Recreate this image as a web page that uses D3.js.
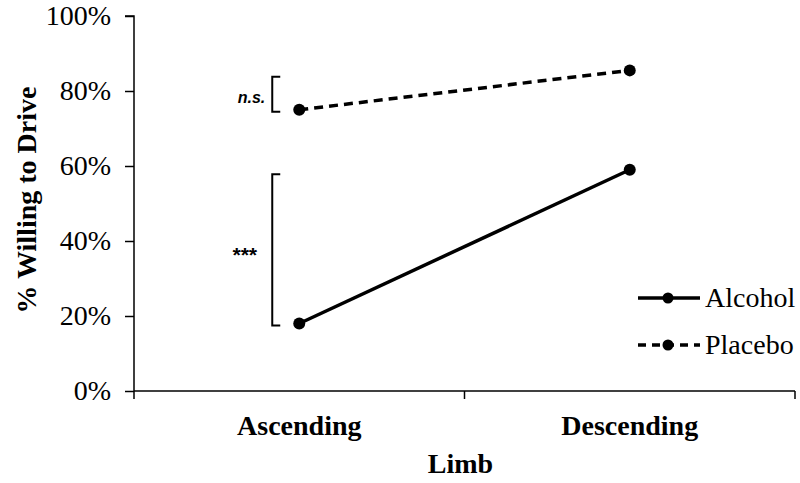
<!DOCTYPE html>
<html><head><meta charset="utf-8">
<script src="https://cdn.jsdelivr.net/npm/d3@7/dist/d3.min.js"></script>
<style>body{margin:0;background:#fff}svg{display:block}
.serif{font-family:"Liberation Serif","Tinos","Times New Roman","DejaVu Serif",serif !important}
.sansbi{font-family:"Liberation Sans",Arial,"DejaVu Sans",sans-serif !important;font-weight:bold;font-style:italic}
</style>
</head><body>
<svg id="c" width="800" height="483"></svg>
<script>
const categories = ["Ascending", "Descending"];
const seriesNames = ["Alcohol", "Placebo"];
const alcohol = [18, 59];
const placebo = [75, 85.5];
const yTicks = [0, 20, 40, 60, 80, 100];

(function () {
const svg = d3.select("#c");
const mL = 134, mR = 795, mT = 16, mB = 391;
const FS = 28;

const x = d3.scaleBand().domain(categories).range([mL, mR]);
const y = d3.scaleLinear().domain([0, 100]).range([mB, mT]);

// Y axis
const ya = svg.append("g").attr("transform", `translate(${mL},0)`)
  .call(d3.axisLeft(y).tickValues(yTicks).tickSize(9).tickPadding(14).tickFormat(d => d + "%"));
ya.attr("font-family", null).attr("font-size", null);
ya.select(".domain").attr("stroke", "#000").attr("stroke-width", 1.5).attr("d", `M-9,${y(100)}H0V${y(0)}`);
ya.selectAll(".tick line").attr("stroke", "#000").attr("stroke-width", 1.5);
ya.selectAll(".tick text").attr("class", "serif").attr("font-size", FS).attr("fill", "#000").attr("dy", "0.32em");

// X axis
const xa = svg.append("g").attr("transform", `translate(0,${mB})`)
  .call(d3.axisBottom(x).tickSize(0).tickPadding(0));
xa.attr("font-family", null).attr("font-size", null);
xa.select(".domain").attr("stroke", "#000").attr("stroke-width", 1.5).attr("d", `M${mL},0H${mR}`);
xa.selectAll(".tick text").attr("class", "serif").attr("font-size", FS).attr("font-weight", "bold")
  .attr("fill", "#000").attr("y", 44).attr("dy", 0);
const bounds = [mL, mL + x.bandwidth(), mR];
svg.append("g").selectAll("line").data(bounds).join("line")
  .attr("x1", d => d).attr("x2", d => d).attr("y1", mB).attr("y2", mB + 8)
  .attr("stroke", "#000").attr("stroke-width", 1.5);

// Axis titles
svg.append("text").attr("class", "serif").attr("x", (mL + mR) / 2 - 4).attr("y", 473).attr("text-anchor", "middle")
  .attr("font-size", FS).attr("font-weight", "bold").text("Limb");
svg.append("text").attr("class", "serif").attr("transform", `translate(36,200) rotate(-90)`).attr("text-anchor", "middle")
  .attr("font-size", FS).attr("font-weight", "bold").text("% Willing to Drive");

const cx = c => x(c) + x.bandwidth() / 2;
const line = d3.line().x((d, i) => cx(categories[i])).y(d => y(d));
const series = [{name: seriesNames[0], vals: alcohol, dash: null},
                {name: seriesNames[1], vals: placebo, dash: "9,6"}];

series.forEach(s => {
  svg.append("path").attr("d", line(s.vals)).attr("fill", "none").attr("stroke", "#000")
    .attr("stroke-width", 3.5).attr("stroke-dasharray", s.dash);
  svg.append("g").selectAll("circle").data(s.vals).join("circle")
    .attr("cx", (d, i) => cx(categories[i])).attr("cy", d => y(d)).attr("r", 6).attr("fill", "#000");
});

// Significance brackets
function bracket(v0, v1, label, ty, fs, gap) {
  const bx = cx(categories[0]) - 27;
  const y0 = y(v1) - 3, y1 = y(v0) + 2;
  svg.append("path").attr("d", `M${bx + 8},${y0}H${bx}V${y1}H${bx + 8}`)
    .attr("fill", "none").attr("stroke", "#000").attr("stroke-width", 2);
  svg.append("text").attr("class", "sansbi").attr("x", bx - gap).attr("y", ty).attr("text-anchor", "end")
    .attr("font-size", fs).text(label);
}
bracket(placebo[0], placebo[0] + 8, "n.s.", 103, 16, 7);
bracket(alcohol[0], 57, "***", 262, 21, 16);

// Legend
const lg = svg.append("g");
series.forEach((s, i) => {
  const ly = 298 + i * 47;
  lg.append("line").attr("x1", 638).attr("x2", 700).attr("y1", ly).attr("y2", ly)
    .attr("stroke", "#000").attr("stroke-width", 3.5).attr("stroke-dasharray", s.dash ? "8,6" : null);
  lg.append("circle").attr("cx", 668).attr("cy", ly).attr("r", 5.5).attr("fill", "#000");
  lg.append("text").attr("class", "serif").attr("x", 705).attr("y", ly).attr("dy", "0.33em")
    .attr("font-size", FS).text(s.name);
});
})();
</script>
</body></html>
